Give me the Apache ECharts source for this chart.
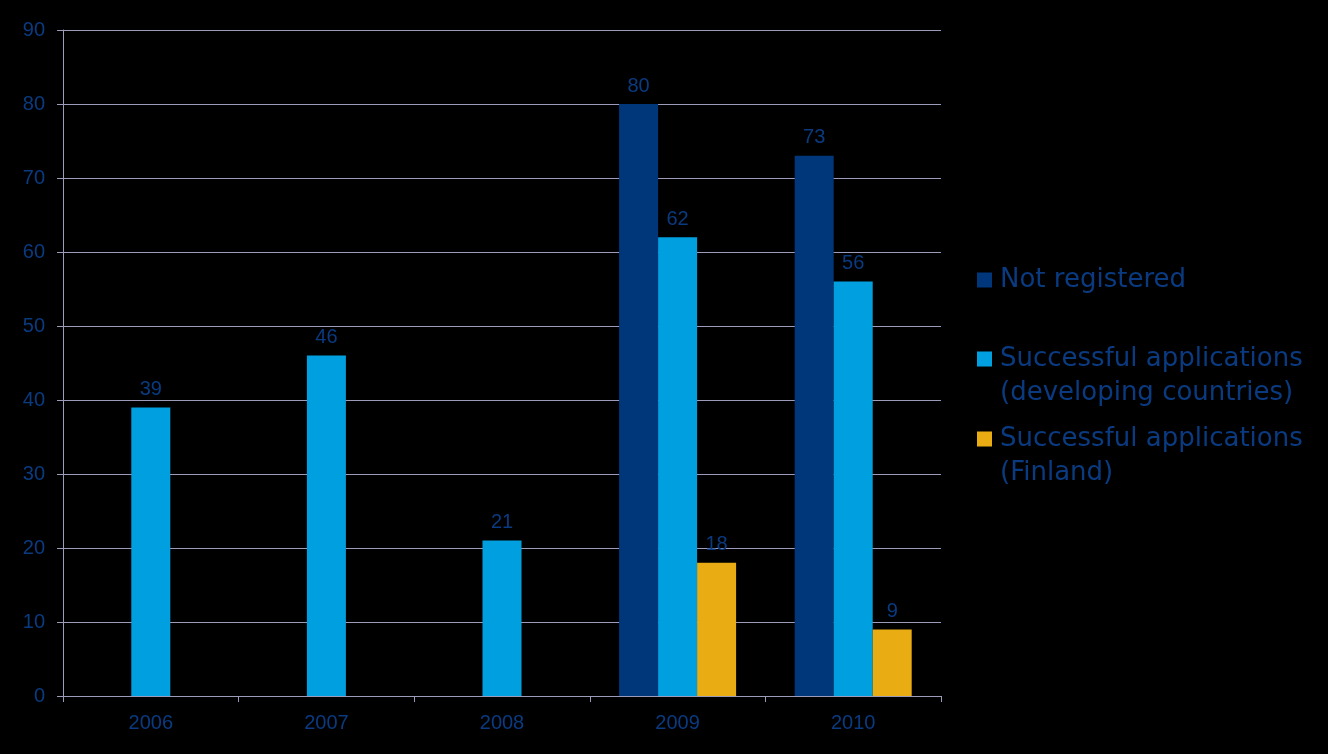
<!DOCTYPE html>
<html><head><meta charset="utf-8">
<script src="https://cdn.jsdelivr.net/npm/echarts@6/dist/echarts.min.js"></script>
<style>html,body{margin:0;padding:0;background:#000;}#c{width:1328px;height:754px;}</style>
</head><body><div id="c"></div>
<script>
const categories = ['2006','2007','2008','2009','2010'];
const notRegistered = [null, null, null, 80, 73];
const successDeveloping = [39, 46, 21, 62, 56];
const successFinland = [null, null, null, 18, 9];
const seriesNames = ['Not registered', 'Successful applications\n(developing countries)', 'Successful applications\n(Finland)'];
const yTicks = {min: 0, max: 90, interval: 10};

const textBlue = '#0a3a80';
const gridCol = '#9c9cba';
const colors = ['#00367a', '#00a0e0', '#e9ad13'];

const chart = echarts.init(document.getElementById('c'));
const label = {show: true, position: 'top', distance: 8, color: textBlue, fontSize: 20, fontFamily: 'Liberation Sans'};
// square at the top of a tall icon box so that it lines up with the first text line
const topSquare = 'path://M0,0 L15,0 L15,15 L0,15 Z M0,49 L0.01,49 L0,49 Z';
function legendAt(top, name, twoLine) {
  return {
    orient: 'vertical', left: 972, top: top, itemWidth: 15, itemHeight: twoLine ? 49 : 15, itemGap: 0,
    icon: twoLine ? topSquare : 'rect', selectedMode: false, data: [name],
    textStyle: {color: textBlue, fontSize: 26, lineHeight: 34, fontFamily: 'DejaVu Sans', padding: [0,0,0,3]}
  };
}
chart.setOption({
  backgroundColor: '#000',
  animation: false,
  grid: {left: 63, right: 387, top: 30, bottom: 58},
  legend: [
    legendAt(258, seriesNames[0], false),
    legendAt(337, seriesNames[1], true),
    legendAt(417, seriesNames[2], true)
  ],
  xAxis: {
    type: 'category', data: categories,
    axisLine: {lineStyle: {color: gridCol, width: 1}},
    axisTick: {show: true, alignWithLabel: false, length: 6, inside: false, lineStyle: {color: gridCol}},
    axisLabel: {color: textBlue, fontSize: 20, fontFamily: 'Liberation Sans', margin: 17}
  },
  yAxis: {
    type: 'value', min: yTicks.min, max: yTicks.max, interval: yTicks.interval,
    axisLine: {show: true, lineStyle: {color: gridCol, width: 1}},
    axisTick: {show: true, length: 6, lineStyle: {color: gridCol}},
    axisLabel: {color: textBlue, fontSize: 20, fontFamily: 'Liberation Sans', margin: 18},
    splitLine: {lineStyle: {color: gridCol, width: 1}}
  },
  series: [
    {name: seriesNames[0], type: 'bar', data: notRegistered, barWidth: 39, barGap: '0%', itemStyle: {color: colors[0]}, label},
    {name: seriesNames[1], type: 'bar', data: successDeveloping, barWidth: 39, barGap: '0%', itemStyle: {color: colors[1]}, label},
    {name: seriesNames[2], type: 'bar', data: successFinland, barWidth: 39, barGap: '0%', itemStyle: {color: colors[2]}, label}
  ]
});
</script></body></html>
